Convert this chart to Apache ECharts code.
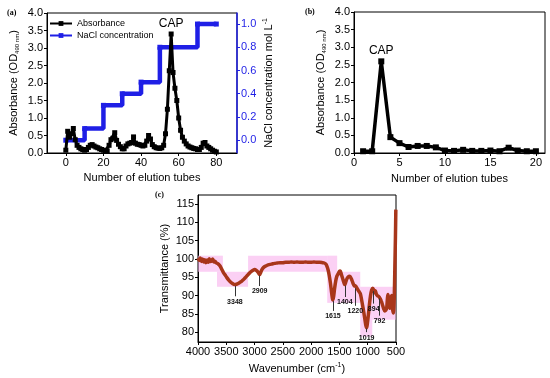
<!DOCTYPE html>
<html>
<head>
<meta charset="utf-8">
<script src="https://cdn.jsdelivr.net/npm/echarts@6/dist/echarts.min.js"></script>
<style>html,body{margin:0;padding:0;background:#fff}#c{width:550px;height:378px}</style>
</head>
<body>
<div id="c"></div>
<script>
// ---- Panel (a) data ----
var tubesA = [0,1,2,3,4,5,6,7,8,9,10,11,12,13,14,15,16,17,18,19,20,21,22,23,24,25,26,27,28,29,30,31,32,33,34,35,36,37,38,39,40,41,42,43,44,45,46,47,48,49,50,51,52,53,54,55,56,57,58,59,60,61,62,63,64,65,66,67,68,69,70,71,72,73,74,75,76,77,78,79,80];
var absorbanceA = [0.08,0.62,0.45,0.55,0.70,0.38,0.22,0.16,0.12,0.10,0.08,0.10,0.16,0.22,0.24,0.20,0.17,0.15,0.12,0.10,0.08,0.06,0.06,0.22,0.38,0.42,0.58,0.36,0.25,0.18,0.12,0.12,0.20,0.26,0.28,0.30,0.46,0.28,0.25,0.24,0.22,0.20,0.22,0.34,0.50,0.40,0.24,0.18,0.15,0.14,0.13,0.15,0.22,0.55,1.25,2.35,3.40,2.30,1.85,1.50,1.00,0.65,0.45,0.34,0.26,0.20,0.17,0.15,0.13,0.12,0.10,0.10,0.16,0.28,0.30,0.20,0.16,0.12,0.08,0.05,0.03];
var naclTubes = [0,10,20,30,40,50,70,80];
var naclConc = [0,0.1,0.3,0.4,0.5,0.8,1.0,1.0];
var xTicksA = [0,20,40,60,80];
var yTicksNaCl = [0,0.2,0.4,0.6,0.8,1.0];

// ---- Panel (b) data ----
var tubesB = [1,2,3,4,5,6,7,8,9,10,11,12,13,14,15,16,17,18,19,20];
var absorbanceB = [0.05,0.05,2.60,0.45,0.28,0.17,0.20,0.20,0.16,0.07,0.06,0.09,0.06,0.06,0.07,0.05,0.15,0.07,0.05,0.05];
var xTicksB = [0,5,10,15,20];

// ---- Panel (c) data ----
var wavenumber = [4000,3980,3960,3940,3920,3900,3880,3860,3840,3820,3800,3780,3760,3740,3720,3700,3680,3660,3640,3610,3580,3550,3520,3490,3460,3430,3400,3370,3348,3320,3290,3260,3230,3200,3170,3140,3110,3080,3050,3020,3000,2970,2940,2920,2909,2895,2870,2840,2800,2760,2700,2650,2600,2550,2500,2450,2400,2350,2300,2250,2200,2150,2100,2050,2000,1950,1900,1850,1800,1770,1740,1720,1700,1680,1660,1640,1625,1615,1600,1585,1565,1545,1520,1500,1485,1470,1450,1430,1415,1404,1390,1370,1350,1330,1310,1290,1270,1250,1235,1220,1205,1190,1170,1150,1130,1110,1090,1070,1050,1035,1019,1005,990,970,950,930,910,894,880,865,850,830,810,792,775,760,740,720,700,680,665,650,640,625,610,595,580,565,550,540,530,520,510,503];
var transmittance = [100.2,99.6,100.3,99.3,100.0,99.2,99.8,99.0,99.7,99.1,100.1,99.3,99.5,100.0,99.2,99.4,99.0,98.8,98.6,98.1,97.2,96.3,95.6,94.9,94.3,93.8,93.4,93.1,93.0,93.1,93.3,93.6,93.9,94.3,94.8,95.3,95.8,96.3,96.7,97.0,97.1,96.9,96.4,95.9,95.7,96.2,97.1,97.7,98.1,98.4,98.6,98.8,98.9,99.0,99.0,99.1,99.1,99.2,99.1,99.2,99.1,99.1,99.2,99.1,99.1,99.2,99.1,99.1,99.0,98.9,98.6,98.0,97.0,95.5,93.5,91.0,89.3,88.8,90.0,92.0,94.0,95.3,96.0,96.6,96.7,96.0,95.0,94.0,93.3,93.0,93.6,94.5,95.0,95.3,95.2,94.6,93.8,93.0,92.6,92.7,92.4,92.0,91.5,91.0,90.5,89.0,87.3,85.5,83.5,82.0,81.2,82.5,84.5,87.5,90.0,91.5,92.0,91.5,90.8,91.3,90.5,90.0,89.8,89.5,89.0,88.5,87.5,86.5,85.8,86.0,86.5,89.5,90.3,88.0,86.5,88.5,90.0,87.0,85.2,86.0,90.0,98.0,106.0,113.5];
var yTicksC = [80,85,90,95,100,105,110,115];
// pink highlight bands [wn from, wn to, T low, T high]
var bandsC = [[4000,3560,96.5,100.9],[3664,3115,92.4,96.5],[3115,1716,96.5,100.9],[1716,1540,88.0,100.9],[1540,1132,88.0,96.5],[1132,920,78.7,92.4],[920,505,83.4,92.4]];
// peak annotations [label, wavenumber, leader top T, leader bottom T]
var peaksC = [['3348',3348,92.6,89.8],['2909',2909,95.5,92.6],['1615',1615,88.5,85.8],['1404',1404,92.7,89.6],['1220',1220,92.0,87.2],['894',894,91.2,87.8],['792',792,89.2,84.5],['1019',1019,81.0,80.0]];

var FONT = 'Liberation Sans';
var BLUE = '#1f1fe6';

function pairs(xs, ys){ return xs.map(function(x,i){ return [x, ys[i]]; }); }
var fmt1 = function(v){ return v.toFixed(1); };
var fmt0 = function(v){ return String(v); };

var baseAxis = {
  axisLine:{show:true,onZero:false,lineStyle:{color:'#000',width:1}},
  axisTick:{show:true,inside:false,length:3,lineStyle:{color:'#000'}},
  axisLabel:{color:'#000',fontFamily:FONT,fontSize:11,margin:4},
  splitLine:{show:false},
  nameTextStyle:{color:'#000',fontFamily:FONT,fontSize:11}
};
function ax(o){ return echarts.util.merge(echarts.util.clone(baseAxis), o, true); }

var chart = echarts.init(document.getElementById('c'), null, {renderer:'canvas'});
chart.setOption({
  animation:false,
  textStyle:{fontFamily:FONT},
  grid:[
    {left:47, top:13, width:190, height:140, show:true, borderColor:'#000', borderWidth:1},
    {left:354, top:12, width:191, height:141, show:true, borderColor:'#000', borderWidth:1},
    {left:198, top:195, width:198, height:147, show:true, borderColor:'#000', borderWidth:1}
  ],
  legend:{
    left:49, top:19, orient:'vertical', itemWidth:22, itemHeight:6, itemGap:3, padding:0,
    textStyle:{fontSize:9, fontFamily:FONT, color:'#000'},
    data:['Absorbance','NaCl concentration']
  },
  xAxis:[
    ax({gridIndex:0, type:'value', min:-10, max:91, name:'Number of elution tubes', nameLocation:'middle', nameGap:19,
        axisLabel:{customValues:xTicksA, formatter:fmt0}, axisTick:{customValues:xTicksA}}),
    ax({gridIndex:1, type:'value', min:0, max:21, name:'Number of elution tubes', nameLocation:'middle', nameGap:20,
        axisLabel:{customValues:xTicksB, formatter:fmt0}, axisTick:{customValues:xTicksB}}),
    ax({gridIndex:2, type:'value', min:500, max:4000, interval:500, inverse:true, axisLabel:{formatter:fmt0},
        name:'Wavenumber (cm{sup|-1})', nameLocation:'middle', nameGap:20,
        nameTextStyle:{rich:{sup:{fontSize:7, verticalAlign:'top', padding:[0,0,6,0], fontFamily:FONT}}}})
  ],
  yAxis:[
    ax({gridIndex:0, type:'value', min:0, max:4, interval:0.5, axisLabel:{formatter:fmt1},
        name:'Absorbance (OD{sub|490 nm})', nameLocation:'middle', nameGap:27,
        nameTextStyle:{rich:{sub:{fontSize:6, fontFamily:FONT, padding:[6,0,0,0]}}}}),
    ax({gridIndex:0, type:'value', position:'right', min:-0.11, max:1.095,
        axisLine:{lineStyle:{color:BLUE,width:1.5}}, axisTick:{customValues:yTicksNaCl, lineStyle:{color:BLUE}},
        axisLabel:{customValues:yTicksNaCl, color:BLUE, formatter:fmt1},
        name:'NaCl concentration mol L{sup|-1}', nameLocation:'middle', nameGap:25, nameRotate:90,
        nameTextStyle:{rich:{sup:{fontSize:7, fontFamily:FONT, padding:[0,0,6,0]}}}}),
    ax({gridIndex:1, type:'value', min:0, max:4, interval:0.5, axisLabel:{formatter:fmt1},
        name:'Absorbance (OD{sub|490 nm})', nameLocation:'middle', nameGap:27,
        nameTextStyle:{rich:{sub:{fontSize:6, fontFamily:FONT, padding:[6,0,0,0]}}}}),
    ax({gridIndex:2, type:'value', min:77.3, max:117.5, name:'Transmittance (%)', nameLocation:'middle', nameGap:28,
        axisLabel:{customValues:yTicksC}, axisTick:{customValues:yTicksC}})
  ],
  series:[
    {name:'Absorbance', type:'line', xAxisIndex:0, yAxisIndex:0, data:pairs(tubesA, absorbanceA),
     symbol:'rect', symbolSize:5, itemStyle:{color:'#000'}, lineStyle:{color:'#000', width:3}, z:3,
     markPoint:{symbol:'rect', symbolSize:0, data:[{type:'max', name:'CAP'}],
       label:{show:true, formatter:'CAP', position:'top', distance:4, color:'#000', fontFamily:FONT, fontSize:12}}},
    {name:'NaCl concentration', type:'line', xAxisIndex:0, yAxisIndex:1, step:'end', data:pairs(naclTubes, naclConc),
     symbol:'rect', symbolSize:5, itemStyle:{color:BLUE}, lineStyle:{color:BLUE, width:4.5}, z:2},
    {name:'AbsB', type:'line', xAxisIndex:1, yAxisIndex:2, data:pairs(tubesB, absorbanceB),
     symbol:'rect', symbolSize:6, itemStyle:{color:'#000'}, lineStyle:{color:'#000', width:3.5},
     markPoint:{symbol:'rect', symbolSize:0, data:[{type:'max', name:'CAP'}],
       label:{show:true, formatter:'CAP', position:'top', distance:5, color:'#000', fontFamily:FONT, fontSize:12}}},
    {name:'FTIR', type:'line', xAxisIndex:2, yAxisIndex:3, data:pairs(wavenumber, transmittance),
     symbol:'none', smooth:0.3, lineStyle:{color:'#a8361a', width:3.5}, z:3,
     markArea:{silent:true, itemStyle:{color:'rgba(248,176,236,0.6)'},
       data:bandsC.map(function(b){ return [{coord:[b[0], b[3]]},{coord:[b[1], b[2]]}]; })},
     markLine:{silent:true, symbol:['none','none'], lineStyle:{color:'#333', width:1, type:'solid'},
       label:{show:true, position:'end', distance:2, formatter:function(p){return p.name;},
              color:'#111', fontFamily:FONT, fontSize:7, fontWeight:'bold'},
       data:peaksC.map(function(p){ return [{name:p[0], coord:[p[1], p[2]]},{coord:[p[1], p[3]]}]; })}}
  ],
  graphic:[
    {type:'text', left:7, top:9, style:{text:'(a)', font:'bold 8px "Liberation Serif"', fill:'#000'}},
    {type:'text', left:305, top:8, style:{text:'(b)', font:'bold 8px "Liberation Serif"', fill:'#000'}},
    {type:'text', left:155, top:191, style:{text:'(c)', font:'bold 8px "Liberation Serif"', fill:'#000'}}
  ]
});
</script>
</body>
</html>
